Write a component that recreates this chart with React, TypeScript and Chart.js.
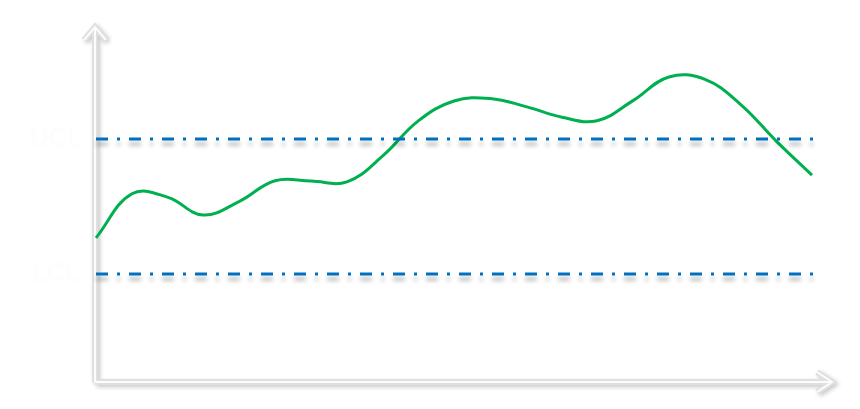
import React, { useEffect, useRef } from "react";
import { Chart, registerables } from "chart.js";

Chart.register(...registerables);

// Process curve sampled along the time axis (x positions, measured values)
const processX = [0, 36, 72, 107, 143, 179, 215, 251, 287, 322, 358, 394, 430, 466, 501, 537, 573, 609, 645, 680, 716];
const processY = [41.1, 53.6, 52.6, 47.6, 51.4, 57.3, 57.2, 57.0, 64.4, 74.2, 79.9, 80.6, 78.3, 75.3, 74.3, 80.0, 86.7, 86.0, 78.8, 68.6, 58.9];

// Control limits
const uclValue = 69.1;
const lclValue = 30.9;
const limitX = [0, 722];
const limitLabels = ["UCL", "LCL"];

const axisPlugin = {
  id: "arrowAxes",
  beforeDatasetsDraw(chart: any) {
    const { ctx, chartArea } = chart;
    const left = chartArea.left - 1;
    const bottom = chartArea.bottom - 1;
    const top = chartArea.top;
    const right = chartArea.right;
    const drawAxes = (color: string, width: number) => {
      ctx.strokeStyle = color;
      ctx.lineWidth = width;
      ctx.lineCap = "butt";
      ctx.lineJoin = "miter";
      ctx.beginPath();
      ctx.moveTo(left, bottom);
      ctx.lineTo(left, top - 3);
      ctx.moveTo(left - 11, top + 10);
      ctx.lineTo(left, top - 3);
      ctx.lineTo(left + 11, top + 10);
      ctx.moveTo(left, bottom);
      ctx.lineTo(right + 2, bottom);
      ctx.moveTo(right - 13, bottom - 10);
      ctx.lineTo(right + 2, bottom);
      ctx.lineTo(right - 13, bottom + 10);
      ctx.stroke();
    };
    ctx.save();
    ctx.shadowColor = "rgba(0,0,0,0.22)";
    ctx.shadowBlur = 4;
    ctx.shadowOffsetX = 2;
    ctx.shadowOffsetY = 2;
    drawAxes("#e0e0e0", 6);
    ctx.restore();
    ctx.save();
    drawAxes("#fcfcfc", 2);
    ctx.restore();

    // faint labels
    const y = chart.scales.y;
    ctx.save();
    ctx.font = "26px 'Liberation Sans', Arial, sans-serif";
    ctx.fillStyle = "#fdfdfd";
    ctx.shadowColor = "rgba(0,0,0,0.035)";
    ctx.shadowBlur = 2;
    ctx.textAlign = "center";
    ctx.textBaseline = "middle";
    ctx.fillText(limitLabels[0], 56, y.getPixelForValue(uclValue));
    ctx.fillText(limitLabels[1], 56, y.getPixelForValue(lclValue));
    ctx.restore();
  },
  beforeDatasetDraw(chart: any, args: any) {
    const ds = chart.data.datasets[args.index];
    chart.ctx.save();
    if (ds.shadow) {
      chart.ctx.shadowColor = "rgba(0,0,0,0.3)";
      chart.ctx.shadowBlur = 4;
      chart.ctx.shadowOffsetX = 0;
      chart.ctx.shadowOffsetY = 5;
    }
  },
  afterDatasetDraw(chart: any) {
    chart.ctx.restore();
  },
};

export default function App() {
  const ref = useRef<HTMLCanvasElement>(null);
  useEffect(() => {
    document.body.style.margin = "0";
    const canvas = ref.current!;
    const chart = new Chart(canvas, {
      type: "line",
      data: {
        datasets: [
          {
            label: "LCL",
            data: limitX.map((x) => ({ x, y: lclValue })),
            borderColor: "#0070c0",
            borderWidth: 3,
            borderDash: [12, 9, 3, 9],
            pointRadius: 0,
            clip: false,
            shadow: true,
          } as any,
          {
            label: "UCL",
            data: limitX.map((x) => ({ x, y: uclValue })),
            borderColor: "#0070c0",
            borderWidth: 3,
            borderDash: [12, 9, 3, 9],
            pointRadius: 0,
            clip: false,
            shadow: true,
          } as any,
          {
            label: "Process",
            data: processX.map((x, i) => ({ x, y: processY[i] })),
            borderColor: "#00b050",
            borderWidth: 3,
            tension: 0.4,
            pointRadius: 0,
            clip: false,
          } as any,
        ],
      },
      options: {
        responsive: false,
        animation: false,
        layout: { padding: { left: 96, right: 30, top: 30, bottom: 26 } },
        plugins: { legend: { display: false }, tooltip: { enabled: false } },
        scales: {
          x: { type: "linear", min: 0, max: 734, display: false },
          y: { min: 0, max: 100, display: false },
        },
      },
      plugins: [axisPlugin],
    });
    return () => chart.destroy();
  }, []);
  return (
    <div style={{ position: "absolute", left: 0, top: 0, width: 860, height: 409, background: "#fff" }}>
      <canvas ref={ref} width={860} height={409} />
    </div>
  );
}
